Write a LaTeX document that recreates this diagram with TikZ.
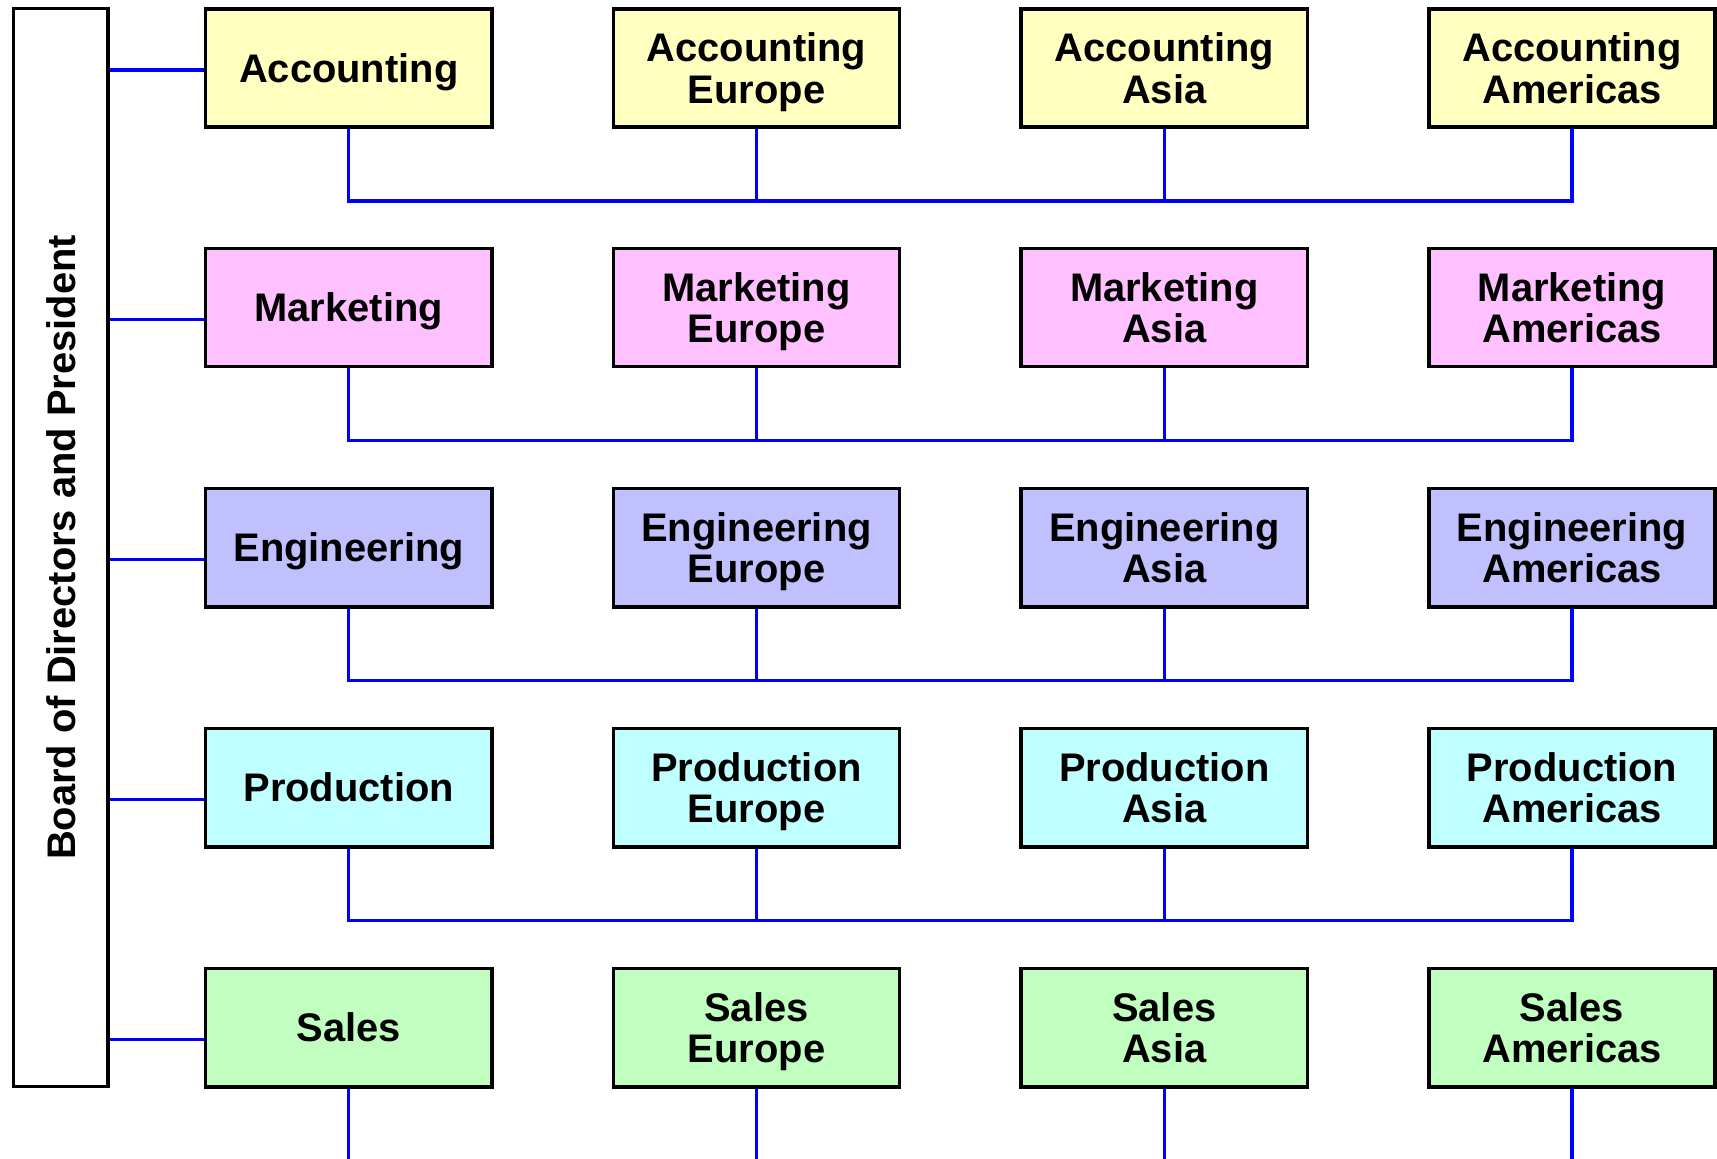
\documentclass[tikz,border=0pt]{standalone}
\usepackage{fontspec}
\setmainfont{Liberation Sans}
\definecolor{accyellow}{HTML}{FFFFC0}
\definecolor{mktpink}{HTML}{FFC0FF}
\definecolor{englilac}{HTML}{C0C0FF}
\definecolor{prodcyan}{HTML}{C0FFFF}
\definecolor{salesgreen}{HTML}{C0FFC0}
\tikzset{
    dept/.style={draw, line width=2pt, minimum width=5.73cm, minimum height=2.37cm,
        inner sep=0pt, align=center, text depth=0pt,
        font=\fontsize{22.7}{23.5}\selectfont\bfseries},
    bus/.style={blue, line width=1.9pt}
}
\begin{document}
\begin{tikzpicture}[x=0.02cm, y=-0.02cm]

    \useasboundingbox (0,0) rectangle (1717,1159);

    % board, rotated: south is its right side
    \node[draw, line width=2pt, rotate=90, minimum width=21.56cm, minimum height=1.89cm,
        font=\fontsize{22.7}{24}\selectfont\bfseries] (board) at (60.75,547.5)
        {Board of Directors and President};

    % accounting
    \node[dept, fill=accyellow] (acc)   at (348.75,68) {Accounting};
    \node[dept, fill=accyellow] (accEu) at (756.5,68)  {Accounting\\Europe};
    \node[dept, fill=accyellow] (accAs) at (1164.25,68) {Accounting\\Asia};
    \node[dept, fill=accyellow] (accAm) at (1572,68)   {Accounting\\Americas};

    % marketing
    \node[dept, fill=mktpink] (mkt)   at (348.75,307.5) {Marketing};
    \node[dept, fill=mktpink] (mktEu) at (756.5,307.5)  {Marketing\\Europe};
    \node[dept, fill=mktpink] (mktAs) at (1164.25,307.5) {Marketing\\Asia};
    \node[dept, fill=mktpink] (mktAm) at (1572,307.5)   {Marketing\\Americas};

    % engineering
    \node[dept, fill=englilac] (eng)   at (348.75,547.5) {Engineering};
    \node[dept, fill=englilac] (engEu) at (756.5,547.5)  {Engineering\\Europe};
    \node[dept, fill=englilac] (engAs) at (1164.25,547.5) {Engineering\\Asia};
    \node[dept, fill=englilac] (engAm) at (1572,547.5)   {Engineering\\Americas};

    % production
    \node[dept, fill=prodcyan] (prod)   at (348.75,787.5) {Production};
    \node[dept, fill=prodcyan] (prodEu) at (756.5,787.5)  {Production\\Europe};
    \node[dept, fill=prodcyan] (prodAs) at (1164.25,787.5) {Production\\Asia};
    \node[dept, fill=prodcyan] (prodAm) at (1572,787.5)   {Production\\Americas};

    % sales
    \node[dept, fill=salesgreen] (sales)   at (348.75,1027.5) {Sales};
    \node[dept, fill=salesgreen] (salesEu) at (756.5,1027.5)  {Sales\\Europe};
    \node[dept, fill=salesgreen] (salesAs) at (1164.25,1027.5) {Sales\\Asia};
    \node[dept, fill=salesgreen] (salesAm) at (1572,1027.5)   {Sales\\Americas};

    % board to departments
    \coordinate (accIn)   at ([yshift=-0.04cm]acc.west);
    \coordinate (mktIn)   at ([yshift=-0.24cm]mkt.west);
    \coordinate (engIn)   at ([yshift=-0.24cm]eng.west);
    \coordinate (prodIn)  at ([yshift=-0.24cm]prod.west);
    \coordinate (salesIn) at ([yshift=-0.24cm]sales.west);
    \draw[bus] (accIn)   -- (board.south |- accIn);
    \draw[bus] (mktIn)   -- (board.south |- mktIn);
    \draw[bus] (engIn)   -- (board.south |- engIn);
    \draw[bus] (prodIn)  -- (board.south |- prodIn);
    \draw[bus] (salesIn) -- (board.south |- salesIn);

    % regional lines
    \draw[bus] (acc.south) -- ++(0,72) -| (accAm.south);
    \draw[bus] (accEu.south) -- ++(0,72);
    \draw[bus] (accAs.south) -- ++(0,72);
    \draw[bus] (mkt.south) -- ++(0,72) -| (mktAm.south);
    \draw[bus] (mktEu.south) -- ++(0,72);
    \draw[bus] (mktAs.south) -- ++(0,72);
    \draw[bus] (eng.south) -- ++(0,72) -| (engAm.south);
    \draw[bus] (engEu.south) -- ++(0,72);
    \draw[bus] (engAs.south) -- ++(0,72);
    \draw[bus] (prod.south) -- ++(0,72) -| (prodAm.south);
    \draw[bus] (prodEu.south) -- ++(0,72);
    \draw[bus] (prodAs.south) -- ++(0,72);
    \draw[bus] (sales.south) -- ++(0,72) -| (salesAm.south);
    \draw[bus] (salesEu.south) -- ++(0,72);
    \draw[bus] (salesAs.south) -- ++(0,72);

\end{tikzpicture}
\end{document}
